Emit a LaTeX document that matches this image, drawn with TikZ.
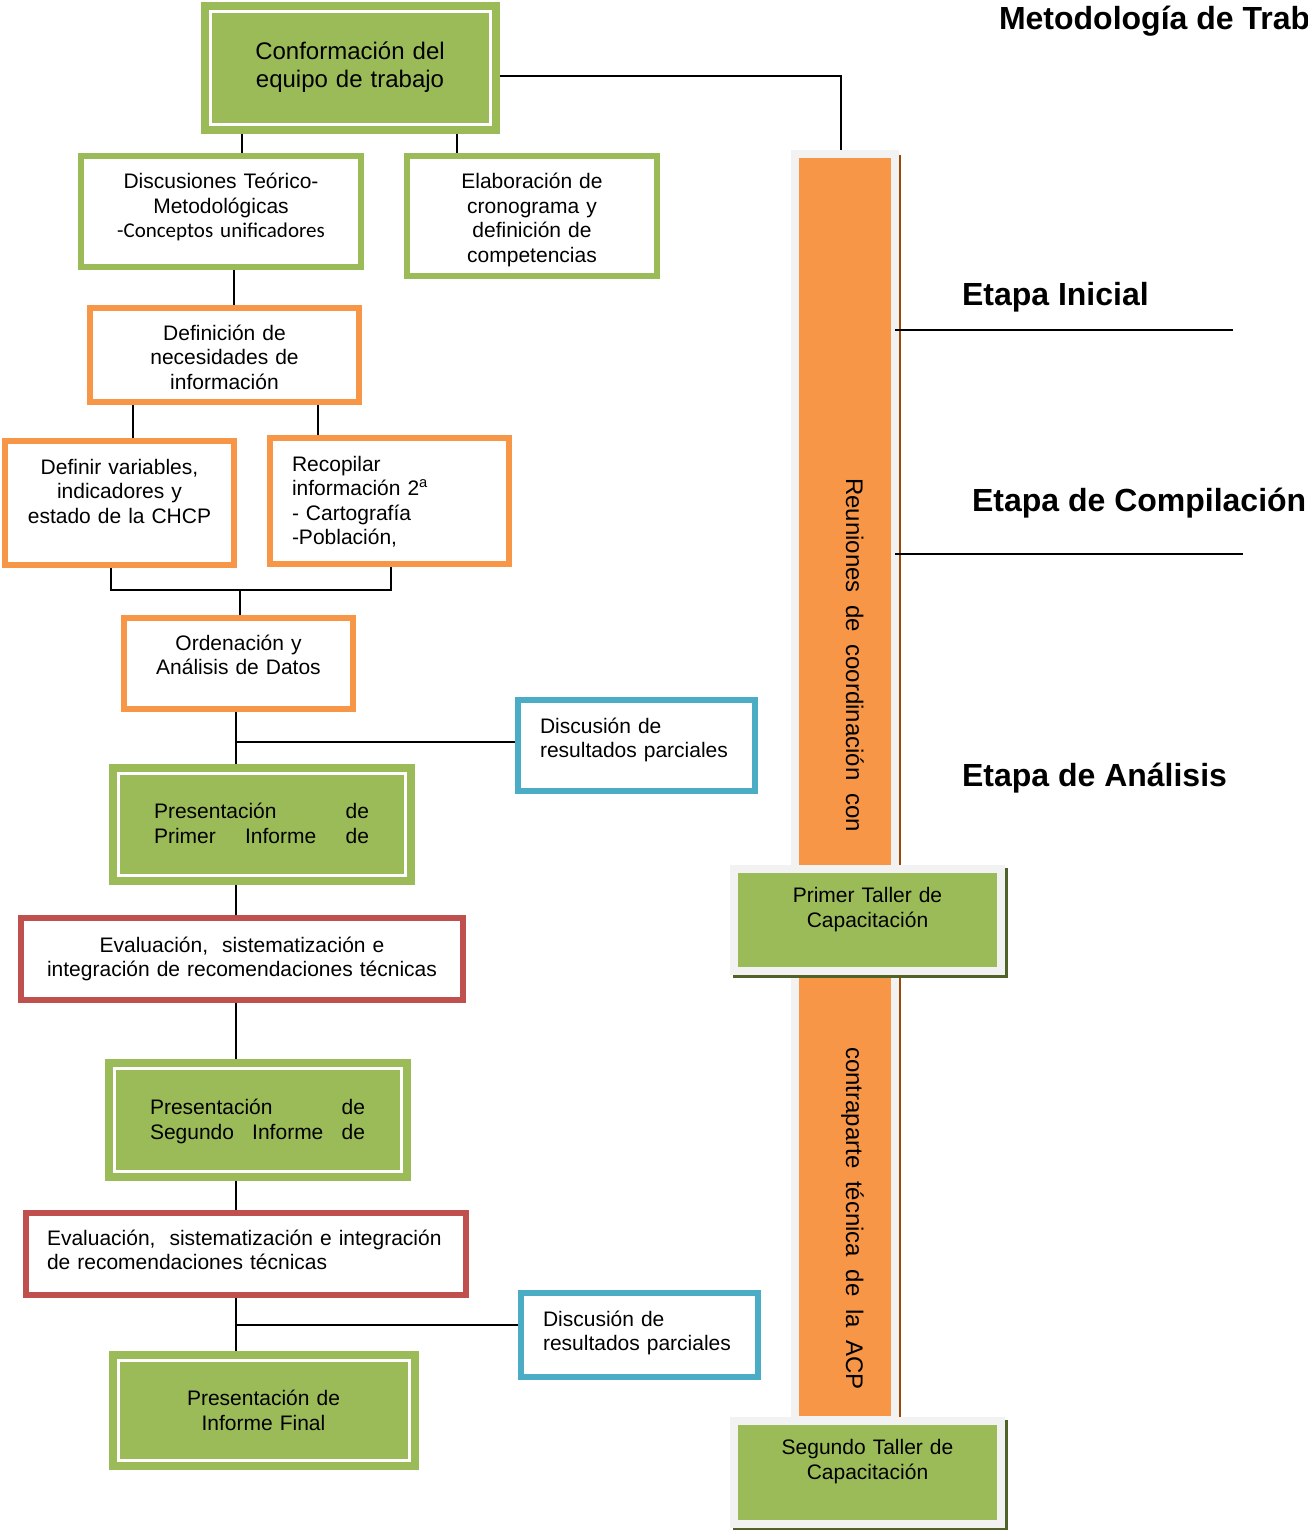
\documentclass[tikz,border=0pt]{standalone}
\usepackage{fontspec}
\setmainfont{Liberation Sans}
\newfontfamily\calfont{Carlito}
\usepackage{tikz}
\usetikzlibrary{shadows}
\usetikzlibrary{backgrounds}
\definecolor{boxgreen}{HTML}{9BBB59}
\definecolor{boxorange}{HTML}{F79646}
\definecolor{boxred}{HTML}{C0504D}
\definecolor{boxblue}{HTML}{4BACC6}
\definecolor{palegray}{HTML}{F2F2F2}
\definecolor{brownline}{HTML}{984807}
\definecolor{shadowgreen}{HTML}{4F6228}

\begin{document}
\begin{tikzpicture}[x=1pt, y=-1pt,
    every node/.style={font=\fontsize{21}{24.5}\selectfont, inner sep=0pt, outer sep=0pt, align=center},
    linebox/.style={draw=#1, line width=6pt, fill=white},
    dblbox/.style={fill=boxgreen, draw=white, line width=3pt, preaction={draw=boxgreen, line width=19pt}},
    tallerbox/.style={fill=boxgreen, draw=palegray, line width=8pt,
        drop shadow={shadow xshift=3pt, shadow yshift=-3pt, opacity=1, fill=shadowgreen, draw=shadowgreen, line width=8pt}},
    coltext/.style={rotate=-90, anchor=base, font=\fontsize{24}{28}\selectfont},
    link/.style={line width=1.6pt},
    etapa/.style={font=\fontsize{32}{38}\selectfont\bfseries, anchor=base west}]

    \useasboundingbox (0,0) rectangle (1307,1530);
    \clip (0,0) rectangle (1307,1530);

    % left column of steps
    \node (conf) [dblbox, font=\fontsize{24}{28}\selectfont, text width=280pt, text height=48pt, text depth=65pt] at (350,68.5) {Conformación del\\equipo de trabajo};

    \node (disc) [linebox=boxgreen, text width=280pt, text height=33pt, text depth=78pt] at (221,211.5) {Discusiones Teórico-\\Metodológicas\\{\calfont -Conceptos unificadores}};
    \node (elab) [linebox=boxgreen, text width=250pt, text height=33pt, text depth=87pt] at (532,216) {Elaboración de\\cronograma y\\definición de\\competencias};

    \node (defn) [linebox=boxorange, text width=269pt, text height=32pt, text depth=62pt] at (224.5,355) {Definición de\\necesidades de\\información};
    \node (defvar) [linebox=boxorange, text width=229pt, text height=33pt, text depth=91pt] at (119.5,503) {Definir variables,\\indicadores y\\estado de la CHCP};
    \node (recop) [linebox=boxorange, align=left, inner xsep=22pt, text width=195pt, text height=33pt, text depth=93pt] at (389.5,501) {Recopilar\\información 2\textsuperscript{a}\\- Cartografía\\-Población,};
    \node (orden) [linebox=boxorange, text width=229pt, text height=32pt, text depth=59pt] at (238.5,663.5) {Ordenación y\\Análisis de Datos};
    \node (disc1) [linebox=boxblue, align=left, inner xsep=22pt, text width=193pt, text height=33pt, text depth=58pt] at (636.5,745.5) {Discusión de\\resultados parciales};

    \node (pres1) [dblbox, align=left, inner xsep=36pt, text width=215pt, text height=45.5pt, text depth=56.5pt] at (261.5,824) {Presentación\hfill de\\Primer\hfill Informe\hfill de};
    \node (eval1) [linebox=boxred, text width=442pt, text height=34pt, text depth=48pt] at (242,959) {Evaluación,\ \ sistematización e\\integración de recomendaciones técnicas};
    \node (pres2) [dblbox, align=left, inner xsep=36pt, text width=215pt, text height=46.5pt, text depth=56.5pt] at (257.5,1119.5) {Presentación\hfill de\\Segundo\hfill Informe\hfill de};
    \node (eval2) [linebox=boxred, align=left, inner xsep=21pt, text width=398pt, text height=32pt, text depth=50pt] at (246,1254) {Evaluación,\ \ sistematización e integración\\de recomendaciones técnicas};
    \node (disc2) [linebox=boxblue, align=left, inner xsep=22pt, text width=193pt, text height=33pt, text depth=51pt] at (639.5,1335) {Discusión de\\resultados parciales};
    \node (final) [dblbox, text width=291pt, text height=45.5pt, text depth=54.5pt] at (263.5,1410) {Presentación de\\Informe Final};

    % right column
    \node (col) [fill=boxorange, draw=palegray, line width=8pt, minimum width=100pt, minimum height=1266pt,
        drop shadow={shadow xshift=2pt, shadow yshift=-5pt, opacity=1, fill=brownline, draw=brownline, line width=8pt}] at (845,787) {};
    \node (colA) [coltext] at (846,655) {\makebox[354pt]{Reuniones\hfill de\hfill coordinación\hfill con}};
    \node (colB) [coltext] at (846,1218.5) {\makebox[343pt]{contraparte\hfill técnica\hfill de\hfill la\hfill ACP}};

    \node (taller1) [tallerbox, text width=267pt, text height=33.5pt, text depth=68.5pt] at (867.5,920) {Primer Taller de\\Capacitación};
    \node (taller2) [tallerbox, text width=267pt, text height=33.5pt, text depth=69.5pt] at (867.5,1472.5) {Segundo Taller de\\Capacitación};

    % stages
    \node (title) [etapa] at (999,30) {Metodología de Trabajo};
    \node (etapa1) [etapa] at (962,305) {Etapa Inicial};
    \node (etapa2) [etapa] at (972,511) {Etapa de Compilación};
    \node (etapa3) [etapa] at (962,786) {Etapa de Análisis};
    \draw[link] (col.east |- 0,330) -- ++(338,0);
    \draw[link] (col.east |- 0,554) -- ++(348,0);

    \begin{scope}[on background layer]
        \draw[link] ([yshift=-7.5pt]conf.east) -| ([xshift=-4pt]col.north);
        \draw[link] (242,0 |- conf.south) -- (242,0 |- disc.north);
        \draw[link] (457,0 |- conf.south) -- (457,0 |- elab.north);
        \draw[link] (234,0 |- disc.south) -- (234,0 |- defn.north);
        \draw[link] (133,0 |- defn.south) -- (133,0 |- defvar.north);
        \draw[link] (318,0 |- defn.south) -- (318,0 |- recop.north);
        \coordinate (join) at (240,590);
        \draw[link] (111,0 |- defvar.south) |- (join) -| (391,0 |- recop.south);
        \draw[link] (join) -- (join |- orden.north);
        \coordinate (br1) at (236,742);
        \draw[link] (236,0 |- orden.south) -- (236,0 |- pres1.north);
        \draw[link] (br1) -- (br1 -| disc1.west);
        \draw[link] (236,0 |- pres1.south) -- (236,0 |- eval1.north);
        \draw[link] (236,0 |- eval1.south) -- (236,0 |- pres2.north);
        \draw[link] (236,0 |- pres2.south) -- (236,0 |- eval2.north);
        \coordinate (br2) at (236,1325);
        \draw[link] (236,0 |- eval2.south) -- (236,0 |- final.north);
        \draw[link] (br2) -- (br2 -| disc2.west);
    \end{scope}

\end{tikzpicture}
\end{document}
